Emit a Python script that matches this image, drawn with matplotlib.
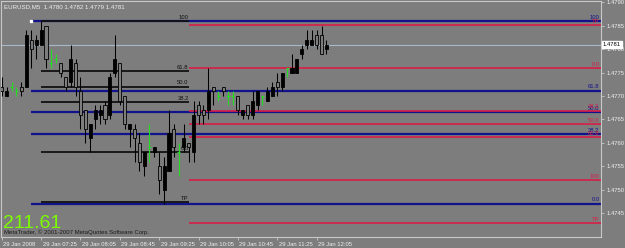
import matplotlib
matplotlib.use("Agg")
import matplotlib.pyplot as plt
import matplotlib.transforms as mtrans

# ---------------- data ----------------
symbol_header = "EURUSD,M5  1.4780 1.4782 1.4779 1.4781"
opens = [1.4772, 1.4770, 1.4772, 1.4771, 1.4772, 1.4772, 1.4782, 1.4781, 1.4781, 1.4785,
         1.4777, 1.4778, 1.4777, 1.4774, 1.4773, 1.4777, 1.4771, 1.4767, 1.4761, 1.4765,
         1.4766, 1.4768, 1.4766, 1.4775, 1.4777, 1.4770, 1.4763, 1.4763, 1.4760, 1.4755,
         1.4759, 1.4758, 1.4755, 1.4750, 1.4754, 1.4763, 1.4758, 1.4759, 1.4760, 1.4758,
         1.4768, 1.4767, 1.4767, 1.4772, 1.4770, 1.4772, 1.4770, 1.4770, 1.4770, 1.4766,
         1.4768, 1.4766, 1.4768, 1.4770, 1.4769, 1.4770, 1.4773, 1.4772, 1.4776, 1.4775,
         1.4775, 1.4779, 1.4781, 1.4781, 1.4783, 1.4783, 1.4780]
highs = [1.4774, 1.4772, 1.4773, 1.4772, 1.4773, 1.4784, 1.4784, 1.4783, 1.4786, 1.4785,
         1.4780, 1.4779, 1.4777, 1.4774, 1.4781, 1.4778, 1.4774, 1.4767, 1.4764, 1.4768,
         1.4768, 1.4769, 1.4775, 1.4783, 1.4777, 1.4770, 1.4764, 1.4764, 1.4762, 1.4758,
         1.4764, 1.4759, 1.4758, 1.4757, 1.4767, 1.4764, 1.4760, 1.4764, 1.4760, 1.4769,
         1.4769, 1.4768, 1.4776, 1.4772, 1.4771, 1.4772, 1.4771, 1.4771, 1.4770, 1.4767,
         1.4768, 1.4771, 1.4771, 1.4770, 1.4772, 1.4773, 1.4775, 1.4775, 1.4776, 1.4779,
         1.4778, 1.4781, 1.4784, 1.4784, 1.4784, 1.4785, 1.4782]
lows = [1.4770, 1.4770, 1.4771, 1.4770, 1.4770, 1.4772, 1.4776, 1.4778, 1.4781, 1.4776,
        1.4776, 1.4777, 1.4774, 1.4771, 1.4772, 1.4770, 1.4763, 1.4760, 1.4758, 1.4763,
        1.4764, 1.4764, 1.4765, 1.4774, 1.4768, 1.4763, 1.4759, 1.4756, 1.4754, 1.4753,
        1.4756, 1.4757, 1.4749, 1.4747, 1.4754, 1.4757, 1.4753, 1.4758, 1.4756, 1.4756,
        1.4764, 1.4764, 1.4765, 1.4768, 1.4769, 1.4770, 1.4768, 1.4768, 1.4766, 1.4765,
        1.4765, 1.4765, 1.4767, 1.4768, 1.4769, 1.4770, 1.4770, 1.4771, 1.4774, 1.4775,
        1.4775, 1.4778, 1.4780, 1.4781, 1.4780, 1.4779, 1.4779]
closes = [1.4771, 1.4771, 1.4772, 1.4771, 1.4771, 1.4783, 1.4780, 1.4782, 1.4784, 1.4778,
          1.4777, 1.4778, 1.4775, 1.4772, 1.4778, 1.4772, 1.4766, 1.4763, 1.4764, 1.4767,
          1.4767, 1.4765, 1.4774, 1.4778, 1.4769, 1.4764, 1.4764, 1.4761, 1.4756, 1.4758,
          1.4759, 1.4759, 1.4752, 1.4755, 1.4762, 1.4759, 1.4758, 1.4761, 1.4759, 1.4766,
          1.4766, 1.4766, 1.4771, 1.4771, 1.4770, 1.4771, 1.4770, 1.4770, 1.4767, 1.4767,
          1.4766, 1.4769, 1.4771, 1.4770, 1.4771, 1.4772, 1.4772, 1.4775, 1.4776, 1.4776,
          1.4778, 1.4780, 1.4782, 1.4782, 1.4781, 1.4779, 1.4781]

xtick_bars = [0, 8, 16, 24, 32, 40, 48, 56, 64]
xtick_labels = ["29 Jan 2008", "29 Jan 07:25", "29 Jan 08:05", "29 Jan 08:45",
                "29 Jan 09:25", "29 Jan 10:05", "29 Jan 10:45", "29 Jan 11:25",
                "29 Jan 12:05"]
ytick_values = [1.4745, 1.4750, 1.4755, 1.4760, 1.4765, 1.4770, 1.4775, 1.4780, 1.4785, 1.4790]
bid_price = 1.4781

# Fibonacci objects: (high/100 price, low/0 price)
blue_fib_100, blue_fib_0 = 1.4786, 1.4747
blue_fib_levels = [1.0, 0.618, 0.5, 0.382, 0.0]
blue_fib_labels = ["100", "61.8", "50.0", "38.2", "0.0"]
blue_fib_start = 6

black_fib_100, black_fib_0 = 1.4786, 1.4758
black_fib_levels = [1.0, 0.618, 0.5, 0.382, 0.0, -0.382]
black_fib_labels = ["100", "61.8", "50.0", "38.2", "0.0", "TP"]
black_fib_start, black_fib_end = 8, 38

red_fib_0, red_fib_100 = 1.4776, 1.4752
red_fib_levels = [-0.382, 0.0, 0.382, 0.5, 0.618, 1.0, 1.382]
red_fib_labels = ["TP", "0.0", "38.2", "50.0", "61.8", "100", "TP"]
red_fib_start = 38

big_number = "211.61"
copyright_text = "MetaTrader, \u00a9 2001-2007 MetaQuotes Software Corp."

# ---------------- style ----------------
BG = "#7d7d7d"
FG = "#f0f0f0"
BLUE = "#12128c"
RED = "#d81e48"
GREEN = "#22dd22"

W, H = 625, 248
fig = plt.figure(figsize=(W / 100, H / 100), dpi=100, facecolor=BG)
ax = fig.add_axes([1 / W, (H - 237) / H, 600 / W, 236 / H], facecolor=BG)

px_per_bar = 4.92
x0_px = 1.7
ax.set_xlim((1 - x0_px) / px_per_bar - 0.0, (601 - x0_px) / px_per_bar)
ax.set_ylim(1.4770 - 141 / 46800, 1.4770 + 95 / 46800)
xmax = ax.get_xlim()[1]

font = "Liberation Sans"

# bid line
ax.axhline(bid_price, color="#a9b7c6", lw=0.8, zorder=1)

# blue fib
for lv, lab in zip(blue_fib_levels, blue_fib_labels):
    p = blue_fib_0 + lv * (blue_fib_100 - blue_fib_0)
    ax.hlines(p, blue_fib_start, xmax, color=BLUE, lw=1.6, zorder=2)
    ax.text(xmax - 0.3, p + 0.00003, lab, color=BLUE, fontsize=4.2, family=font,
            ha="right", va="bottom", zorder=6)

# black fib
for lv, lab in zip(black_fib_levels, black_fib_labels):
    p = black_fib_0 + lv * (black_fib_100 - black_fib_0)
    ax.hlines(p, black_fib_start, black_fib_end, color="#111111", lw=1.3, zorder=3)
    ax.text(black_fib_end, p + 0.00003, lab, color="#111111", fontsize=4.2, family=font,
            ha="right", va="bottom", zorder=6)

# red fib
for lv, lab in zip(red_fib_levels, red_fib_labels):
    p = red_fib_0 - lv * (red_fib_0 - red_fib_100)
    ax.hlines(p, red_fib_start, xmax, color=RED, lw=1.2, zorder=3)
    ax.text(xmax - 0.3, p + 0.00003, lab, color=RED, fontsize=4.2, family=font,
            ha="right", va="bottom", zorder=6)

# anchor dot
ax.plot([blue_fib_start], [blue_fib_100], marker="s", ms=1.5, color="white", zorder=7)

# candles
bw = 0.62
for i, (o, h, l, c) in enumerate(zip(opens, highs, lows, closes)):
    if abs(o - c) < 1e-9:
        ax.vlines(i, l, h, color=GREEN, lw=0.8, zorder=5)
        ax.hlines(o, i - bw / 2, i + bw / 2, color=GREEN, lw=0.8, zorder=5)
        continue
    ax.vlines(i, l, h, color="black", lw=0.75, zorder=4)
    lo, hi = min(o, c), max(o, c)
    if c > o:
        ax.bar(i, hi - lo, bottom=lo, width=bw, color="black", edgecolor="black",
               lw=0.6, zorder=5)
    else:
        ax.bar(i, hi - lo, bottom=lo, width=bw, color=BG, edgecolor="black",
               lw=0.6, zorder=5)

# spines
for s in ax.spines.values():
    s.set_color("#c8c8c8")
    s.set_linewidth(0.8)

# ticks
ax.set_xticks(xtick_bars)
ax.set_xticklabels(xtick_labels, ha="left", fontsize=4.2, color=FG, family=font)
ax.tick_params(axis="x", direction="out", length=2.5, width=0.6, color="#c8c8c8", pad=1.2)
for lbl in ax.get_xticklabels():
    lbl.set_transform(lbl.get_transform() + mtrans.ScaledTranslation(1.5 / 100, 0, fig.dpi_scale_trans))

ax.yaxis.tick_right()
ax.set_yticks(ytick_values)
ax.set_yticklabels([f"{v:.4f}" for v in ytick_values], fontsize=4.2, color=FG, family=font)
ax.tick_params(axis="y", direction="out", length=2.5, width=0.6, color="#c8c8c8", pad=1.5)

# price box
trans = mtrans.blended_transform_factory(ax.transAxes, ax.transData)
ax.text(1.003, bid_price, f"{bid_price:.4f}", transform=trans, fontsize=4.2, family=font,
        color="black", ha="left", va="center", clip_on=False, zorder=10,
        bbox=dict(boxstyle="square,pad=0.15", fc="white", ec="white"))

# header and texts
ax.text(3 / 600, 1 - 6 / 236, symbol_header, transform=ax.transAxes, fontsize=4.4,
        family=font, color=FG, ha="left", va="center")
ax.text(2 / 600, 5 / 236, big_number, transform=ax.transAxes, fontsize=14,
        family=font, color="#7CFC00", ha="left", va="bottom", zorder=8)
ax.text(3 / 600, 2 / 236, copyright_text, transform=ax.transAxes, fontsize=4.3,
        family=font, color="#1a1a1a", ha="left", va="bottom", zorder=9)

fig.savefig("out.png", dpi=100, facecolor=BG)
